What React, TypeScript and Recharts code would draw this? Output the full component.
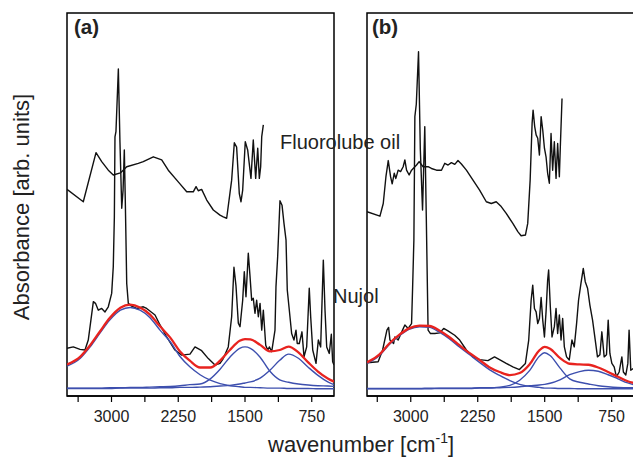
import React from 'react';
import { LineChart, Line, XAxis, YAxis, ReferenceArea } from 'recharts';

// x ticks (cm^-1), minor ticks have no label
const xTicks = [3375, 3000, 2625, 2250, 1875, 1500, 1125, 750];
const xLabels = [3000, 2250, 1500, 750];
const yTicks = [0, 1, 2, 3, 4, 5, 6, 7, 8, 9, 10];

// ---- panel (a) ----
const fluoroWaveA = [3500, 3317, 3174, 3110, 3036, 2980, 2900, 2829, 2699, 2643, 2530, 2436, 2362, 2250, 2155, 2081, 2050, 2025, 1987, 1930, 1856, 1781, 1744, 1706, 1669, 1650, 1620, 1594, 1564, 1545, 1526, 1497, 1470, 1433, 1407, 1380, 1357, 1339, 1324, 1312, 1294];
const fluoroAbsA = [5.82, 5.46, 6.89, 6.63, 6.38, 6.24, 6.3, 6.48, 6.58, 6.63, 6.77, 6.68, 6.38, 6.04, 5.75, 5.75, 5.9, 5.78, 5.82, 5.51, 5.22, 5.07, 5.02, 4.98, 5.71, 6.09, 7.18, 7.05, 5.7, 5.46, 5.8, 7.21, 6.97, 6.14, 7.26, 6.14, 7.02, 6.14, 6.48, 7.36, 7.7];

const nujolWaveA = [3500, 3429, 3354, 3298, 3261, 3204, 3180, 3148, 3110, 3073, 3036, 2998, 2980, 2968, 2961, 2950, 2923, 2905, 2885, 2870, 2856, 2845, 2829, 2811, 2773, 2717, 2643, 2605, 2511, 2455, 2380, 2287, 2211, 2118, 2062, 1987, 1912, 1837, 1781, 1744, 1688, 1650, 1624, 1601, 1575, 1556, 1526, 1508, 1489, 1463, 1444, 1425, 1407, 1388, 1369, 1350, 1331, 1312, 1294, 1267, 1245, 1225, 1200, 1163, 1152, 1133, 1107, 1084, 1062, 1039, 1025, 1002, 976, 950, 927, 913, 890, 860, 837, 807, 778, 762, 739, 702, 676, 650, 620, 601, 582, 553, 530, 515, 500];
const nujolAbsA = [1.19, 1.23, 1.16, 1.14, 1.43, 2.55, 2.5, 2.3, 2.35, 2.25, 2.4, 2.79, 3.57, 5.0, 7.35, 7.5, 9.33, 7.2, 5.27, 5.8, 6.97, 5.5, 3.08, 2.5, 2.42, 2.35, 2.4, 2.35, 2.16, 1.87, 1.52, 1.14, 0.99, 1.02, 1.23, 1.12, 0.89, 0.7, 0.75, 0.89, 1.23, 2.11, 3.55, 3.0, 1.92, 1.82, 2.59, 3.42, 2.69, 3.96, 3.3, 2.59, 2.65, 2.21, 2.59, 2.11, 2.5, 1.72, 2.3, 1.28, 1.14, 1.23, 1.09, 1.72, 2.98, 3.86, 5.49, 5.36, 4.83, 4.34, 2.89, 2.3, 1.62, 1.43, 1.72, 1.33, 1.33, 1.67, 0.94, 1.23, 2.94, 2.11, 1.14, 0.75, 1.43, 1.23, 3.76, 2.3, 1.23, 1.04, 1.6, 0.8, 0.7];

const fitWaveA = [3500, 3350, 3240, 3130, 3020, 2900, 2790, 2680, 2570, 2455, 2340, 2230, 2120, 2005, 1890, 1780, 1670, 1560, 1500, 1440, 1330, 1220, 1110, 1010, 900, 790, 680, 570, 500];
const band1A = [0.67, 0.9, 1.23, 1.63, 2.01, 2.3, 2.38, 2.3, 2.09, 1.72, 1.38, 0.95, 0.65, 0.42, 0.26, 0.16, 0.1, 0.07, 0.05, 0.05, 0.04, 0.03, 0.03, 0.02, 0.02, 0.02, 0.01, 0.01, 0.01];
const band2A = [0.03, 0.03, 0.03, 0.03, 0.04, 0.04, 0.05, 0.05, 0.06, 0.07, 0.08, 0.1, 0.13, 0.15, 0.3, 0.58, 0.93, 1.19, 1.23, 1.19, 0.93, 0.52, 0.27, 0.2, 0.15, 0.12, 0.1, 0.09, 0.08];
const band3A = [0.02, 0.02, 0.02, 0.02, 0.02, 0.03, 0.03, 0.03, 0.03, 0.04, 0.04, 0.05, 0.05, 0.06, 0.07, 0.09, 0.11, 0.15, 0.18, 0.21, 0.32, 0.55, 0.84, 1.02, 0.9, 0.64, 0.4, 0.21, 0.13];
const envelopeA = [0.72, 0.95, 1.28, 1.68, 2.07, 2.37, 2.46, 2.38, 2.18, 1.83, 1.5, 1.1, 0.83, 0.63, 0.63, 0.83, 1.14, 1.41, 1.46, 1.45, 1.29, 1.1, 1.14, 1.24, 1.07, 0.78, 0.51, 0.31, 0.22];

// ---- panel (b) ----
const fluoroWaveB = [3490, 3345, 3308, 3278, 3252, 3226, 3208, 3185, 3167, 3141, 3114, 3085, 3066, 3047, 3018, 2991, 2935, 2906, 2862, 2806, 2768, 2712, 2656, 2619, 2582, 2545, 2507, 2471, 2433, 2377, 2303, 2229, 2154, 2098, 2043, 1987, 1931, 1857, 1801, 1764, 1716, 1690, 1663, 1641, 1630, 1612, 1596, 1578, 1559, 1540, 1522, 1503, 1485, 1467, 1448, 1429, 1411, 1392, 1373, 1355, 1336, 1325, 1306];
const fluoroAbsB = [5.17, 5.04, 5.41, 6.19, 6.66, 6.19, 5.98, 6.29, 6.14, 6.38, 6.34, 6.48, 6.68, 6.38, 6.24, 6.38, 6.53, 6.63, 6.48, 6.48, 6.43, 6.38, 6.38, 6.58, 6.53, 6.6, 6.55, 6.66, 6.56, 6.38, 6.09, 5.8, 5.46, 5.41, 5.46, 5.32, 5.12, 4.83, 4.59, 4.47, 4.49, 4.83, 6.09, 7.75, 8.13, 7.65, 7.41, 7.31, 6.82, 7.94, 7.55, 7.02, 6.77, 6.29, 6.0, 7.45, 6.38, 7.21, 6.14, 7.16, 6.19, 7.06, 8.47];

const nujolWaveB = [3490, 3365, 3315, 3267, 3248, 3233, 3192, 3178, 3141, 3092, 3066, 3029, 2991, 2980, 2965, 2954, 2938, 2913, 2893, 2868, 2843, 2826, 2806, 2779, 2731, 2675, 2631, 2583, 2508, 2452, 2377, 2304, 2229, 2136, 2062, 2006, 1931, 1857, 1783, 1716, 1679, 1652, 1634, 1615, 1596, 1578, 1559, 1540, 1522, 1503, 1485, 1467, 1456, 1437, 1418, 1392, 1373, 1355, 1336, 1317, 1299, 1280, 1255, 1225, 1195, 1169, 1143, 1121, 1094, 1068, 1046, 1020, 994, 964, 934, 909, 882, 860, 834, 808, 789, 770, 748, 722, 697, 666, 636, 619, 592, 569, 555, 536, 510];
const nujolAbsB = [0.77, 0.8, 1.14, 1.72, 1.8, 1.43, 1.33, 1.52, 1.43, 1.72, 1.87, 1.77, 1.91, 2.89, 4.34, 7.94, 8.3, 9.83, 7.0, 5.22, 7.65, 5.0, 1.72, 1.62, 1.62, 1.64, 1.77, 1.7, 1.57, 1.43, 1.14, 0.94, 0.86, 0.83, 0.94, 0.86, 0.75, 0.65, 0.57, 0.75, 1.43, 2.59, 3.03, 2.35, 2.25, 1.91, 2.06, 2.67, 2.01, 1.52, 2.25, 3.18, 3.47, 2.4, 1.52, 1.82, 2.35, 1.62, 2.16, 1.43, 2.06, 1.23, 0.94, 0.85, 1.43, 1.23, 1.91, 2.59, 3.08, 3.52, 3.13, 2.94, 2.45, 2.01, 1.43, 0.94, 1.0, 1.67, 0.94, 1.0, 2.01, 1.04, 0.75, 0.65, 0.36, 0.5, 0.94, 0.5, 0.41, 0.75, 1.72, 0.55, 0.6];

const fitWaveB = [3490, 3350, 3240, 3130, 3020, 2900, 2790, 2680, 2570, 2455, 2340, 2230, 2120, 2005, 1890, 1780, 1670, 1560, 1500, 1440, 1330, 1220, 1110, 1010, 900, 790, 680, 570, 500];
const band1B = [0.75, 0.98, 1.3, 1.55, 1.74, 1.82, 1.8, 1.66, 1.47, 1.23, 1.0, 0.78, 0.57, 0.4, 0.25, 0.14, 0.08, 0.05, 0.03, 0.03, 0.02, 0.02, 0.01, 0.01, 0.01, 0.01, 0.01, 0.01, 0.01];
const band2B = [0.02, 0.02, 0.02, 0.02, 0.02, 0.02, 0.03, 0.03, 0.03, 0.03, 0.03, 0.04, 0.04, 0.06, 0.11, 0.26, 0.54, 0.96, 1.06, 0.98, 0.62, 0.3, 0.2, 0.15, 0.1, 0.07, 0.05, 0.04, 0.04];
const band3B = [0.01, 0.01, 0.01, 0.01, 0.01, 0.01, 0.01, 0.02, 0.02, 0.02, 0.02, 0.03, 0.03, 0.04, 0.05, 0.07, 0.1, 0.12, 0.14, 0.17, 0.27, 0.42, 0.51, 0.55, 0.52, 0.42, 0.3, 0.18, 0.13];
const envelopeB = [0.78, 1.01, 1.33, 1.58, 1.77, 1.85, 1.84, 1.71, 1.52, 1.28, 1.05, 0.85, 0.64, 0.5, 0.41, 0.47, 0.72, 1.13, 1.23, 1.18, 0.91, 0.74, 0.72, 0.71, 0.63, 0.5, 0.36, 0.23, 0.18];

const zip = (w: number[], v: number[]) => w.map((x, i) => ({ w: x, v: v[i] }));

const FONT = '"Liberation Sans", Arial, sans-serif';
const BLACK = '#111';
const RED = '#e8231f';
const BLUE = '#3d4fae';
const Y_DOMAIN: [number, number] = [-0.2, 10.96];

type PanelProps = {
  left: number;
  width: number;
  marginLeft: number;
  xMax: number;
  showY: boolean;
  fluoro: { w: number; v: number }[];
  nujol: { w: number; v: number }[];
  bands: { w: number; v: number }[][];
  envelope: { w: number; v: number }[];
};

function Panel({ left, width, marginLeft, xMax, showY, fluoro, nujol, bands, envelope }: PanelProps) {
  return (
    <div style={{ position: 'absolute', left, top: 0 }}>
      <LineChart width={width} height={458} margin={{ top: 13, right: 6, bottom: 32, left: marginLeft }}>
        <XAxis
          dataKey="w"
          type="number"
          domain={[500, xMax]}
          reversed
          allowDataOverflow
          ticks={xTicks}
          interval={0}
          tickFormatter={(t: number) => (xLabels.includes(t) ? String(t) : '')}
          tickSize={6}
          tickMargin={9}
          height={30}
          axisLine={{ stroke: '#000', strokeWidth: 1.5 }}
          tickLine={{ stroke: '#000', strokeWidth: 1.2 }}
          tick={{ fill: '#222', fontSize: 16, fontFamily: FONT }}
        />
        <YAxis
          type="number"
          domain={Y_DOMAIN}
          allowDataOverflow
          ticks={yTicks}
          interval={0}
          width={0}
          hide={!showY}
          tickFormatter={() => ''}
          tickSize={7}
          axisLine={false}
          tickLine={{ stroke: '#000', strokeWidth: 1.2 }}
        />
        <Line data={fluoro} dataKey="v" type="linear" stroke={BLACK} strokeWidth={1.4} dot={false} isAnimationActive={false} strokeLinejoin="round" />
        <Line data={nujol} dataKey="v" type="linear" stroke={BLACK} strokeWidth={1.4} dot={false} isAnimationActive={false} strokeLinejoin="round" />
        {bands.map((b, i) => (
          <Line key={i} data={b} dataKey="v" type="monotone" stroke={BLUE} strokeWidth={1.4} dot={false} isAnimationActive={false} />
        ))}
        <Line data={envelope} dataKey="v" type="monotone" stroke={RED} strokeWidth={2.3} dot={false} isAnimationActive={false} />
        <ReferenceArea x1={xMax} x2={500} y1={Y_DOMAIN[0]} y2={Y_DOMAIN[1]} fill="none" stroke="#000" strokeWidth={1.5} ifOverflow="visible" />
      </LineChart>
    </div>
  );
}

export default function App() {
  return (
    <div style={{ position: 'fixed', left: 0, top: 0, width: 633, height: 458, overflow: 'hidden', background: '#fff' }}>
      <Panel
        left={0}
        width={340}
        marginLeft={67}
        xMax={3500}
        showY
        fluoro={zip(fluoroWaveA, fluoroAbsA)}
        nujol={zip(nujolWaveA, nujolAbsA)}
        bands={[zip(fitWaveA, band1A), zip(fitWaveA, band2A), zip(fitWaveA, band3A)]}
        envelope={zip(fitWaveA, envelopeA)}
      />
      <Panel
        left={340}
        width={300}
        marginLeft={27}
        xMax={3490}
        showY={false}
        fluoro={zip(fluoroWaveB, fluoroAbsB)}
        nujol={zip(nujolWaveB, nujolAbsB)}
        bands={[zip(fitWaveB, band1B), zip(fitWaveB, band2B), zip(fitWaveB, band3B)]}
        envelope={zip(fitWaveB, envelopeB)}
      />
      <svg width={633} height={458} style={{ position: 'absolute', left: 0, top: 0, pointerEvents: 'none' }} fontFamily={FONT}>
        <text x={74} y={34} fontSize={20.5} fontWeight="bold" fill="#222">(a)</text>
        <text x={372} y={34} fontSize={20.5} fontWeight="bold" fill="#222">(b)</text>
        <text x={280} y={149} fontSize={20} fill="#222">Fluorolube oil</text>
        <text x={333} y={303} fontSize={20} fill="#222">Nujol</text>
        <text x={0} y={0} fontSize={22} fill="#222" textAnchor="middle" transform="translate(29 207) rotate(-90)">
          Absorbance [arb. units]
        </text>
        <text x={268} y={452} fontSize={22} fill="#222">
          wavenumber [cm
          <tspan dy={-9} fontSize={14}>-1</tspan>
          <tspan dy={9}>]</tspan>
        </text>
      </svg>
    </div>
  );
}
